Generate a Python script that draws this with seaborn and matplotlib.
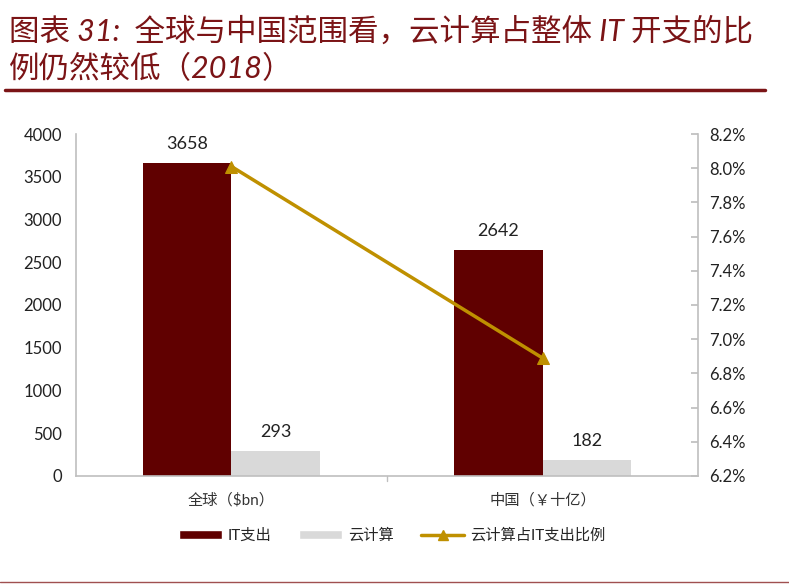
import matplotlib
matplotlib.use("Agg")
import matplotlib.pyplot as plt
import seaborn as sns
import pandas as pd
from matplotlib.lines import Line2D
from matplotlib.patches import Patch

# data
categories = ["全球（$bn）", "中国（￥十亿）"]
it_spend = [3658, 2642]
cloud = [293, 182]
cloud_share = [8.01, 6.89]  # %

sns.set_theme(style="white")
plt.rcParams['font.family'] = ['Lato', 'Noto Sans CJK SC', 'DejaVu Sans']

dark_red = "#600000"
grey = "#D9D9D9"
gold = "#BF9000"
title_red = "#7B1416"

df = pd.DataFrame({
    "cat": categories * 2,
    "val": it_spend + cloud,
    "series": ["IT支出"] * 2 + ["云计算"] * 2,
})

fig = plt.figure(figsize=(7.89, 5.84), dpi=100)
ax = fig.add_axes([0.0963, 0.185, 0.7884, 0.5855])

sns.barplot(data=df, x="cat", y="val", hue="series", palette=[dark_red, grey],
            width=0.572, saturation=1, ax=ax, legend=False, edgecolor="none")
for cont in ax.containers:
    ax.bar_label(cont, fmt="%d", padding=8, fontsize=13, color="#222222")

ax.set_ylim(0, 4000)
ax.set_yticks(range(0, 4001, 500))
ax.set_xlim(-0.5, 1.5)
ax.set_xlabel("")
ax.set_ylabel("")
ax.tick_params(axis="y", labelsize=12, length=0, pad=10, labelcolor="#222222")
ax.tick_params(axis="x", labelsize=11, length=0, pad=12, labelcolor="#333333")
for s in ["top", "right"]:
    ax.spines[s].set_visible(False)
for s in ["left", "bottom"]:
    ax.spines[s].set_color("#BFBFBF")
    ax.spines[s].set_linewidth(1.2)
ax.axvline(0.5, ymin=-0.015, ymax=0, color="#BFBFBF", lw=1, clip_on=False)

ax2 = ax.twinx()
sns.lineplot(x=[0, 1], y=cloud_share, ax=ax2, color=gold, lw=2.5,
             marker="^", markersize=9, markeredgecolor=gold)
ax2.set_ylim(6.2, 8.2)
ax2.set_yticks([6.2 + 0.2 * i for i in range(11)])
ax2.set_yticklabels([f"{6.2 + 0.2 * i:.1f}%" for i in range(11)])
ax2.tick_params(axis="y", labelsize=12, direction="in", length=5, color="#BFBFBF",
                pad=8, labelcolor="#222222")
for s in ["top", "left", "bottom"]:
    ax2.spines[s].set_visible(False)
ax2.spines["right"].set_color("#BFBFBF")
ax2.spines["right"].set_linewidth(1.2)
ax2.set_xlim(-0.5, 1.5)

handles = [
    Patch(facecolor=dark_red, label="IT支出"),
    Patch(facecolor=grey, label="云计算"),
    Line2D([0], [0], color=gold, lw=2.5, marker="^", markersize=7, label="云计算占IT支出比例"),
]
fig.legend(handles=handles, loc="center", bbox_to_anchor=(0.497, 0.083), ncol=3,
           frameon=False, fontsize=11, handlelength=2.8, handleheight=0.6,
           columnspacing=1.8, handletextpad=0.4)

fig.text(0.012, 0.947, "图表 31:  全球与中国范围看，云计算占整体 IT 开支的比",
         fontsize=22, color=title_red, style="italic", va="center")
fig.text(0.012, 0.882, "例仍然较低（2018）",
         fontsize=22, color=title_red, style="italic", va="center")
fig.add_artist(Line2D([0.006, 0.97], [0.846, 0.846], color=title_red, lw=2.5))
fig.add_artist(Line2D([0.0, 1.0], [0.003, 0.003], color="#A05050", lw=1))

fig.savefig("out.png", dpi=100)
